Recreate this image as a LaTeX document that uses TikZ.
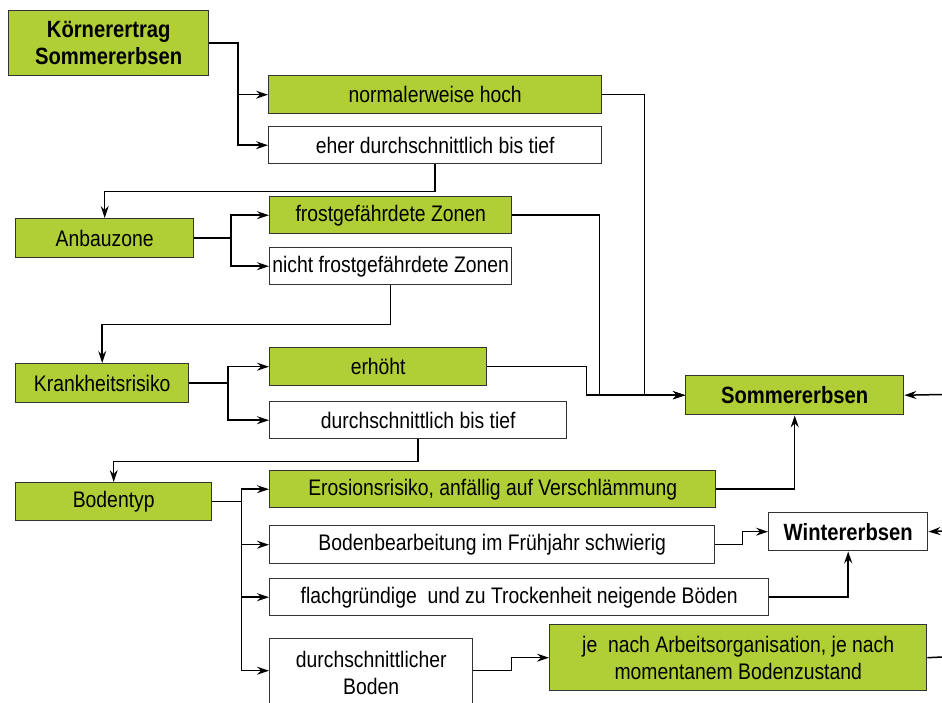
\documentclass[tikz,border=0pt]{standalone}
\usepackage{fontspec}
\setmainfont{Liberation Sans}[FakeStretch=0.86]
\usetikzlibrary{positioning,arrows.meta}
\definecolor{erbsgruen}{HTML}{B0CF36}
\definecolor{rahmen}{HTML}{333333}

\begin{document}
\begin{tikzpicture}[x=1pt, y=-1pt,
    box/.style={rectangle, draw=rahmen, line width=1.4pt, minimum height=38pt, inner sep=0pt, text centered, align=center, anchor=north west, font=\fontsize{22.5}{27}\selectfont},
    gbox/.style={box, fill=erbsgruen},
    wbox/.style={box, fill=white},
    fett/.style={font=\fontsize{23.5}{27}\selectfont\bfseries},
    linie/.style={line width=1.5pt},
    pfeil/.style={linie, -{Stealth[length=12pt, width=8pt, inset=4pt]}}
]
    \useasboundingbox (0,0) rectangle (942,702);

    % Kornertrag
    \node[gbox, fett, minimum width=200pt, minimum height=65pt] at (8,10) (ertrag) {Körnerertrag\\Sommererbsen};
    \node[gbox, minimum width=333pt] at (268,75) (hoch) {normalerweise hoch};
    \node[wbox, minimum width=333pt, minimum height=37pt] at (268,126) (tief1) {eher durchschnittlich bis tief};

    % Anbauzone
    \node[gbox, minimum width=178pt, minimum height=39pt] at (15,218) (zone) {Anbauzone};
    \node[gbox, minimum width=242pt, minimum height=37pt] at (269,196) (frost) {frostgefährdete Zonen};
    \node[wbox, minimum width=242pt, minimum height=37pt] at (269,247) (nichtfrost) {nicht frostgefährdete Zonen};

    % Krankheitsrisiko
    \node[gbox, minimum width=173pt, minimum height=39pt] at (15,363) (krank) {Krankheitsrisiko};
    \node[gbox, minimum width=217pt] at (269,347) (erhoeht) {erhöht};
    \node[wbox, minimum width=297pt, minimum height=37pt] at (269,401) (tief2) {durchschnittlich bis tief};

    % Bodentyp
    \node[gbox, minimum width=196pt] at (15,482) (boden) {Bodentyp};
    \node[gbox, minimum width=446pt, minimum height=37pt] at (269,470) (erosion) {Erosionsrisiko, anfällig auf Verschlämmung};
    \node[wbox, minimum width=445pt] at (269,525) (bearb) {Bodenbearbeitung im Frühjahr schwierig};
    \node[wbox, minimum width=499pt, minimum height=37pt] at (269,578) (flach) {flachgründige\ \ und zu Trockenheit neigende Böden};
    \node[wbox, minimum width=203pt, minimum height=68pt] at (269,638) (dboden) {durchschnittlicher\\Boden};
    \node[gbox, minimum width=377pt, minimum height=66pt] at (549,624) (arbeit) {je\ \ nach Arbeitsorganisation, je nach\\momentanem Bodenzustand};

    % Ergebnis
    \node[gbox, fett, minimum width=218pt, minimum height=39pt] at (685,375) (sommer) {Sommererbsen};
    \node[wbox, fett, minimum width=159pt] at (768,512) (winter) {Wintererbsen};
    \coordinate (rsommer) at (942,394.5);
    \coordinate (rwinter) at (942,531);
    \coordinate (rarbeit) at (942,657);

    % Verbindungen
    \draw[pfeil] (ertrag.east) -| ([xshift=-30pt]hoch.west) -- (hoch.west);
    \draw[pfeil] ([xshift=-30pt]hoch.west) |- (tief1.west);
    \draw[pfeil] (hoch.east) -- ++(42,0) |- (sommer.west);
    \draw[pfeil] (tief1.south) -- ++(0,27) -| (zone.north);

    \draw[pfeil] (zone.east) -| ([xshift=-38pt]frost.west) -- (frost.west);
    \draw[pfeil] ([xshift=-38pt]frost.west) |- (nichtfrost.west);
    \draw[pfeil] (frost.east) -- ++(87,0) |- (sommer.west);
    \draw[pfeil] (nichtfrost.south) -- ++(0,39) -| (krank.north);

    \draw[pfeil] (krank.east) -| ([xshift=-41pt]erhoeht.west) -- (erhoeht.west);
    \draw[pfeil] ([xshift=-41pt]erhoeht.west) |- (tief2.west);
    \draw[pfeil] (erhoeht.east) -- ++(99,0) |- (sommer.west);
    \draw[pfeil] (tief2.south) -- ++(0,22) -| (boden.north);

    \draw[linie] (boden.east) -- ++(29,0) coordinate (bk);
    \draw[pfeil] (bk |- erosion.west) -- (erosion.west);
    \draw[pfeil] (bk |- bearb.west) -- (bearb.west);
    \draw[pfeil] (bk |- flach.west) -- (flach.west);
    \draw[pfeil] (bk |- erosion.west) |- ([yshift=2pt]dboden.west);
    \draw[pfeil] (erosion.east) -| (sommer.south);
    \draw[pfeil] (bearb.east) -- ++(27,0) |- (winter.west);
    \draw[pfeil] (flach.east) -| (winter.south);
    \draw[pfeil] ([yshift=2pt]dboden.east) -- ++(38,0) |- (arbeit.west);
    \draw[linie] (arbeit.east) -- (rarbeit);
    \draw[pfeil] (rsommer) -- (sommer.east);
    \draw[pfeil] (rwinter) -- (winter.east);
\end{tikzpicture}
\end{document}
